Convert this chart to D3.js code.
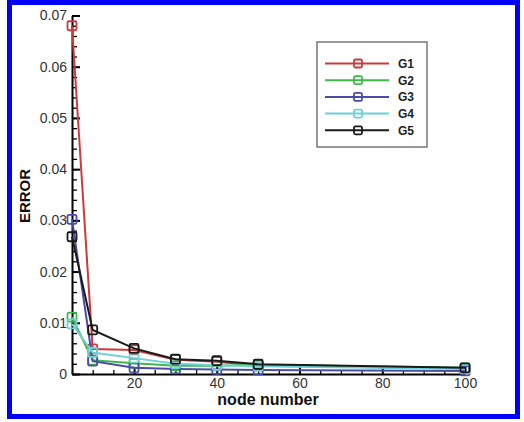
<!DOCTYPE html>
<html><head><meta charset="utf-8">
<script src="https://cdn.jsdelivr.net/npm/d3@7"></script>
<style>
html,body{margin:0;padding:0;background:#fff;}
svg{display:block;font-family:"Liberation Sans",Arial,sans-serif;}
</style></head>
<body>
<svg id="chart" width="524" height="422"></svg>
<script>
const nodeNumbers = [5, 10, 20, 30, 40, 50, 100];
const seriesNames = ["G1", "G2", "G3", "G4", "G5"];
const seriesColors = ["#cc3a3a", "#3fb84a", "#4b4ba8", "#6fd0d6", "#1a1a1a"];
const g1 = [0.0680, 0.0049, 0.0047, 0.0028, 0.0024, 0.0016, 0.0011];
const g2 = [0.0111, 0.0027, 0.0021, 0.0016, 0.0016, 0.0018, 0.0012];
const g3 = [0.0302, 0.0025, 0.0012, 0.0010, 0.0009, 0.0008, 0.0006];
const g4 = [0.0098, 0.0042, 0.0031, 0.0020, 0.0017, 0.0015, 0.0010];
const g5 = [0.0268, 0.0086, 0.0050, 0.0029, 0.0026, 0.0019, 0.0012];
const seriesValues = [g1, g2, g3, g4, g5];
const xTicks = [20, 40, 60, 80, 100];
const yTicks = [0, 0.01, 0.02, 0.03, 0.04, 0.05, 0.06, 0.07];
const yTickLabels = ["0", "0.01", "0.02", "0.03", "0.04", "0.05", "0.06", "0.07"];

const svg = d3.select("#chart");

// blue frame
svg.append("rect").attr("x", 9.5).attr("y", 2.5).attr("width", 508).attr("height", 414)
  .attr("fill", "#fff").attr("stroke", "#0000ff").attr("stroke-width", 5);

const x = d3.scaleLinear().domain([5, 100]).range([72, 465]);
const y = d3.scaleLinear().domain([0, 0.07]).range([374, 15.5]);

// y minor ticks
svg.append("g").attr("transform", "translate(72,0)")
  .call(d3.axisLeft(y).tickValues(d3.range(0, 0.0701, 0.002)).tickSize(-5).tickFormat(""))
  .call(g => g.select(".domain").remove())
  .call(g => g.selectAll("line").attr("stroke", "#000").attr("stroke-width", 1.3));
// y major
const yAx = svg.append("g").attr("transform", "translate(72,0)")
  .call(d3.axisLeft(y).tickValues(yTicks).tickSize(-8).tickSizeOuter(0).tickPadding(5)
    .tickFormat((d, i) => yTickLabels[i]));
yAx.select(".domain").attr("stroke", "#000").attr("stroke-width", 2);
yAx.selectAll("line").attr("stroke", "#000").attr("stroke-width", 2);
yAx.selectAll("text").attr("font-size", 14).attr("fill", "#333").attr("font-family", "Liberation Sans, Arial, sans-serif");

// x minor ticks
svg.append("g").attr("transform", "translate(0,374)")
  .call(d3.axisBottom(x).tickValues(d3.range(5, 100.1, 5)).tickSize(-4).tickFormat(""))
  .call(g => g.select(".domain").remove())
  .call(g => g.selectAll("line").attr("stroke", "#000").attr("stroke-width", 1.3));
const xAx = svg.append("g").attr("transform", "translate(0,374)")
  .call(d3.axisBottom(x).tickValues(xTicks).tickSize(-7).tickSizeOuter(0).tickPadding(4));
xAx.select(".domain").attr("stroke", "#000").attr("stroke-width", 2);
xAx.selectAll("line").attr("stroke", "#000").attr("stroke-width", 2);
xAx.selectAll("text").attr("font-size", 14).attr("fill", "#333").attr("font-family", "Liberation Sans, Arial, sans-serif");

// axis titles
svg.append("text").attr("x", 268).attr("y", 405).attr("text-anchor", "middle")
  .attr("font-size", 16).attr("font-weight", "bold").attr("fill", "#111").text("node number");
svg.append("text").attr("transform", "translate(30,196) rotate(-90)").attr("text-anchor", "middle")
  .attr("font-size", 15).attr("font-weight", "bold").attr("fill", "#111").text("ERROR");

// series
const line = d3.line().x((d, i) => x(nodeNumbers[i])).y(d => y(d));
seriesValues.forEach((vals, si) => {
  const c = seriesColors[si];
  svg.append("path").datum(vals).attr("d", line).attr("fill", "none")
    .attr("stroke", c).attr("stroke-width", 2);
  svg.append("g").selectAll("rect").data(vals).join("rect")
    .attr("x", (d, i) => x(nodeNumbers[i]) - 4.5).attr("y", d => y(d) - 4.5)
    .attr("width", 9).attr("height", 9).attr("rx", 1.5)
    .attr("fill", "none").attr("stroke", c).attr("stroke-width", 1.8);
});

// legend
const lg = svg.append("g");
lg.append("rect").attr("x", 317).attr("y", 42).attr("width", 110).attr("height", 105)
  .attr("fill", "#fff").attr("stroke", "#777").attr("stroke-width", 1.5);
seriesNames.forEach((name, i) => {
  const yy = 63.5 + i * 16.7;
  const c = seriesColors[i];
  lg.append("line").attr("x1", 325).attr("x2", 389).attr("y1", yy).attr("y2", yy)
    .attr("stroke", c).attr("stroke-width", 2);
  lg.append("rect").attr("x", 354).attr("y", yy - 4).attr("width", 8).attr("height", 8).attr("rx", 1.5)
    .attr("fill", "none").attr("stroke", c).attr("stroke-width", 1.8);
  lg.append("text").attr("x", 398).attr("y", yy + 4.5).attr("font-size", 12).attr("font-weight", "bold")
    .attr("fill", "#222").text(name);
});
</script>
</body></html>
